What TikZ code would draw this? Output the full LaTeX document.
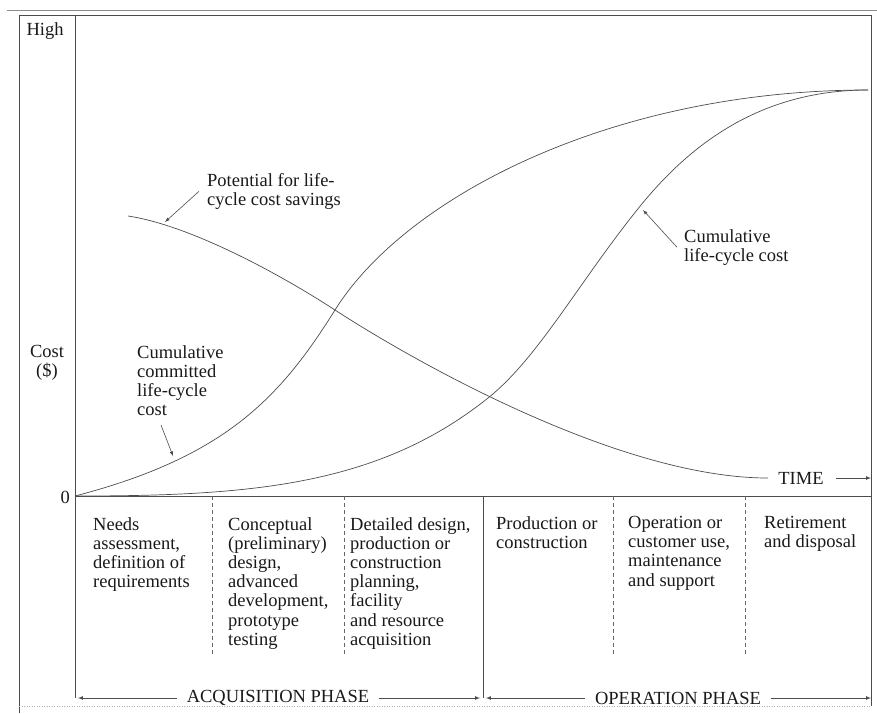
\documentclass[tikz,border=0pt]{standalone}
\usepackage{fontspec}
\setmainfont{Liberation Serif}
\begin{document}
\begin{tikzpicture}[x=1pt, y=-1pt,
		>=latex,
		costline/.style = {draw=black!70, line width=0.7pt},
		txt/.style = {font=\fontsize{18.5}{19.2}\selectfont, text=black!90,
				inner sep=0pt},
		block/.style = {txt, align=left, anchor=north west},
		divider/.style = {draw=black!60, line width=0.6pt,
				dash pattern=on 4pt off 3pt}
	]
	\useasboundingbox (0,0) rectangle (877,713);

	% frame and axes
	\draw[black!45, line width=0.5pt] (7,10) -- (877,10);
	\draw[costline] (19,713) -- (19,15) -- (871,15) -- (871,706);
	\draw[black!30, line width=0.5pt, dotted] (19,706) -- (871,706);
	\draw[costline] (75,15) -- (75,698);
	\draw[costline] (75,496) -- (871,496);

	\node[txt, anchor=base] (high) at (45,35) {High};
	\node[txt, anchor=east] (zero) at (70,497) {0};
	\node[txt, align=center, anchor=north] (cost) at (47,345) {Cost\\(\$)};

	% the three curves
	\draw[costline] (75,496) .. controls (225,457) and (280,398) .. (335,310)
	.. controls (405,198) and (610,90) .. (868,90);
	\draw[costline] (75,496) .. controls (250,496) and (378,486) .. (488,398)
	.. controls (538,358) and (577,285) .. (637,210)
	.. controls (687,147) and (758,90) .. (868,90);
	\draw[costline] (128,216) .. controls (188,225) and (275,271) .. (335,310)
	.. controls (415,362) and (620,478) .. (768,478);

	\node[txt] (time) at (801,478) {TIME};
	\coordinate (timeend) at (871,478);
	\draw[costline, ->] ([xshift=12pt]time.east) -- (timeend);

	% labels with pointers
	\node[block] (savlbl) at (207,173) {Potential for life-\\cycle cost savings};
	\node[block] (comlbl) at (137,345) {Cumulative\\committed\\life-cycle\\cost};
	\node[block] (lcclbl) at (684,229) {Cumulative\\life-cycle cost};

	\coordinate (savtip) at (165,222);
	\coordinate (comtip) at (173,456);
	\coordinate (lcctip) at (643,210);
	\draw[costline, line width=0.6pt, ->] ([xshift=-8pt]savlbl.west) -- (savtip);
	\draw[costline, line width=0.6pt, ->] ([xshift=24pt, yshift=-9pt]comlbl.south west) -- (comtip);
	\draw[costline, line width=0.6pt, ->] ([xshift=-7pt]lcclbl.west) -- (lcctip);

	% phases
	\foreach \x in {212, 344, 613, 745} {
			\draw[divider] (\x,496) -- (\x,655);
		}
	\draw[costline] (483,496) -- (483,698);

	\node[block] (needs) at (93,517) {Needs\\assessment,\\definition of\\requirements};
	\node[block] (concept) at (228,517) {Conceptual\\(preliminary)\\design,\\advanced\\development,\\prototype\\testing};
	\node[block] (detail) at (350,517) {Detailed design,\\production or\\construction\\planning,\\facility\\and resource\\acquisition};
	\node[block] (prod) at (496,516) {Production or\\construction};
	\node[block] (operate) at (628,516) {Operation or\\customer use,\\maintenance\\and support};
	\node[block] (retire) at (764,516) {Retirement\\and disposal};

	\node[txt] (acq) at (278,698) {ACQUISITION PHASE};
	\node[txt] (oper) at (678,698) {OPERATION PHASE};
	\coordinate (acqL) at (78,698);
	\coordinate (acqR) at (480,698);
	\coordinate (operL) at (486,698);
	\coordinate (operR) at (871,698);
	\draw[costline, ->] ([xshift=-10pt]acq.west) -- (acqL);
	\draw[costline, ->] ([xshift=10pt]acq.east) -- (acqR);
	\draw[costline, ->] ([xshift=-10pt]oper.west) -- (operL);
	\draw[costline, ->] ([xshift=10pt]oper.east) -- (operR);
\end{tikzpicture}
\end{document}
